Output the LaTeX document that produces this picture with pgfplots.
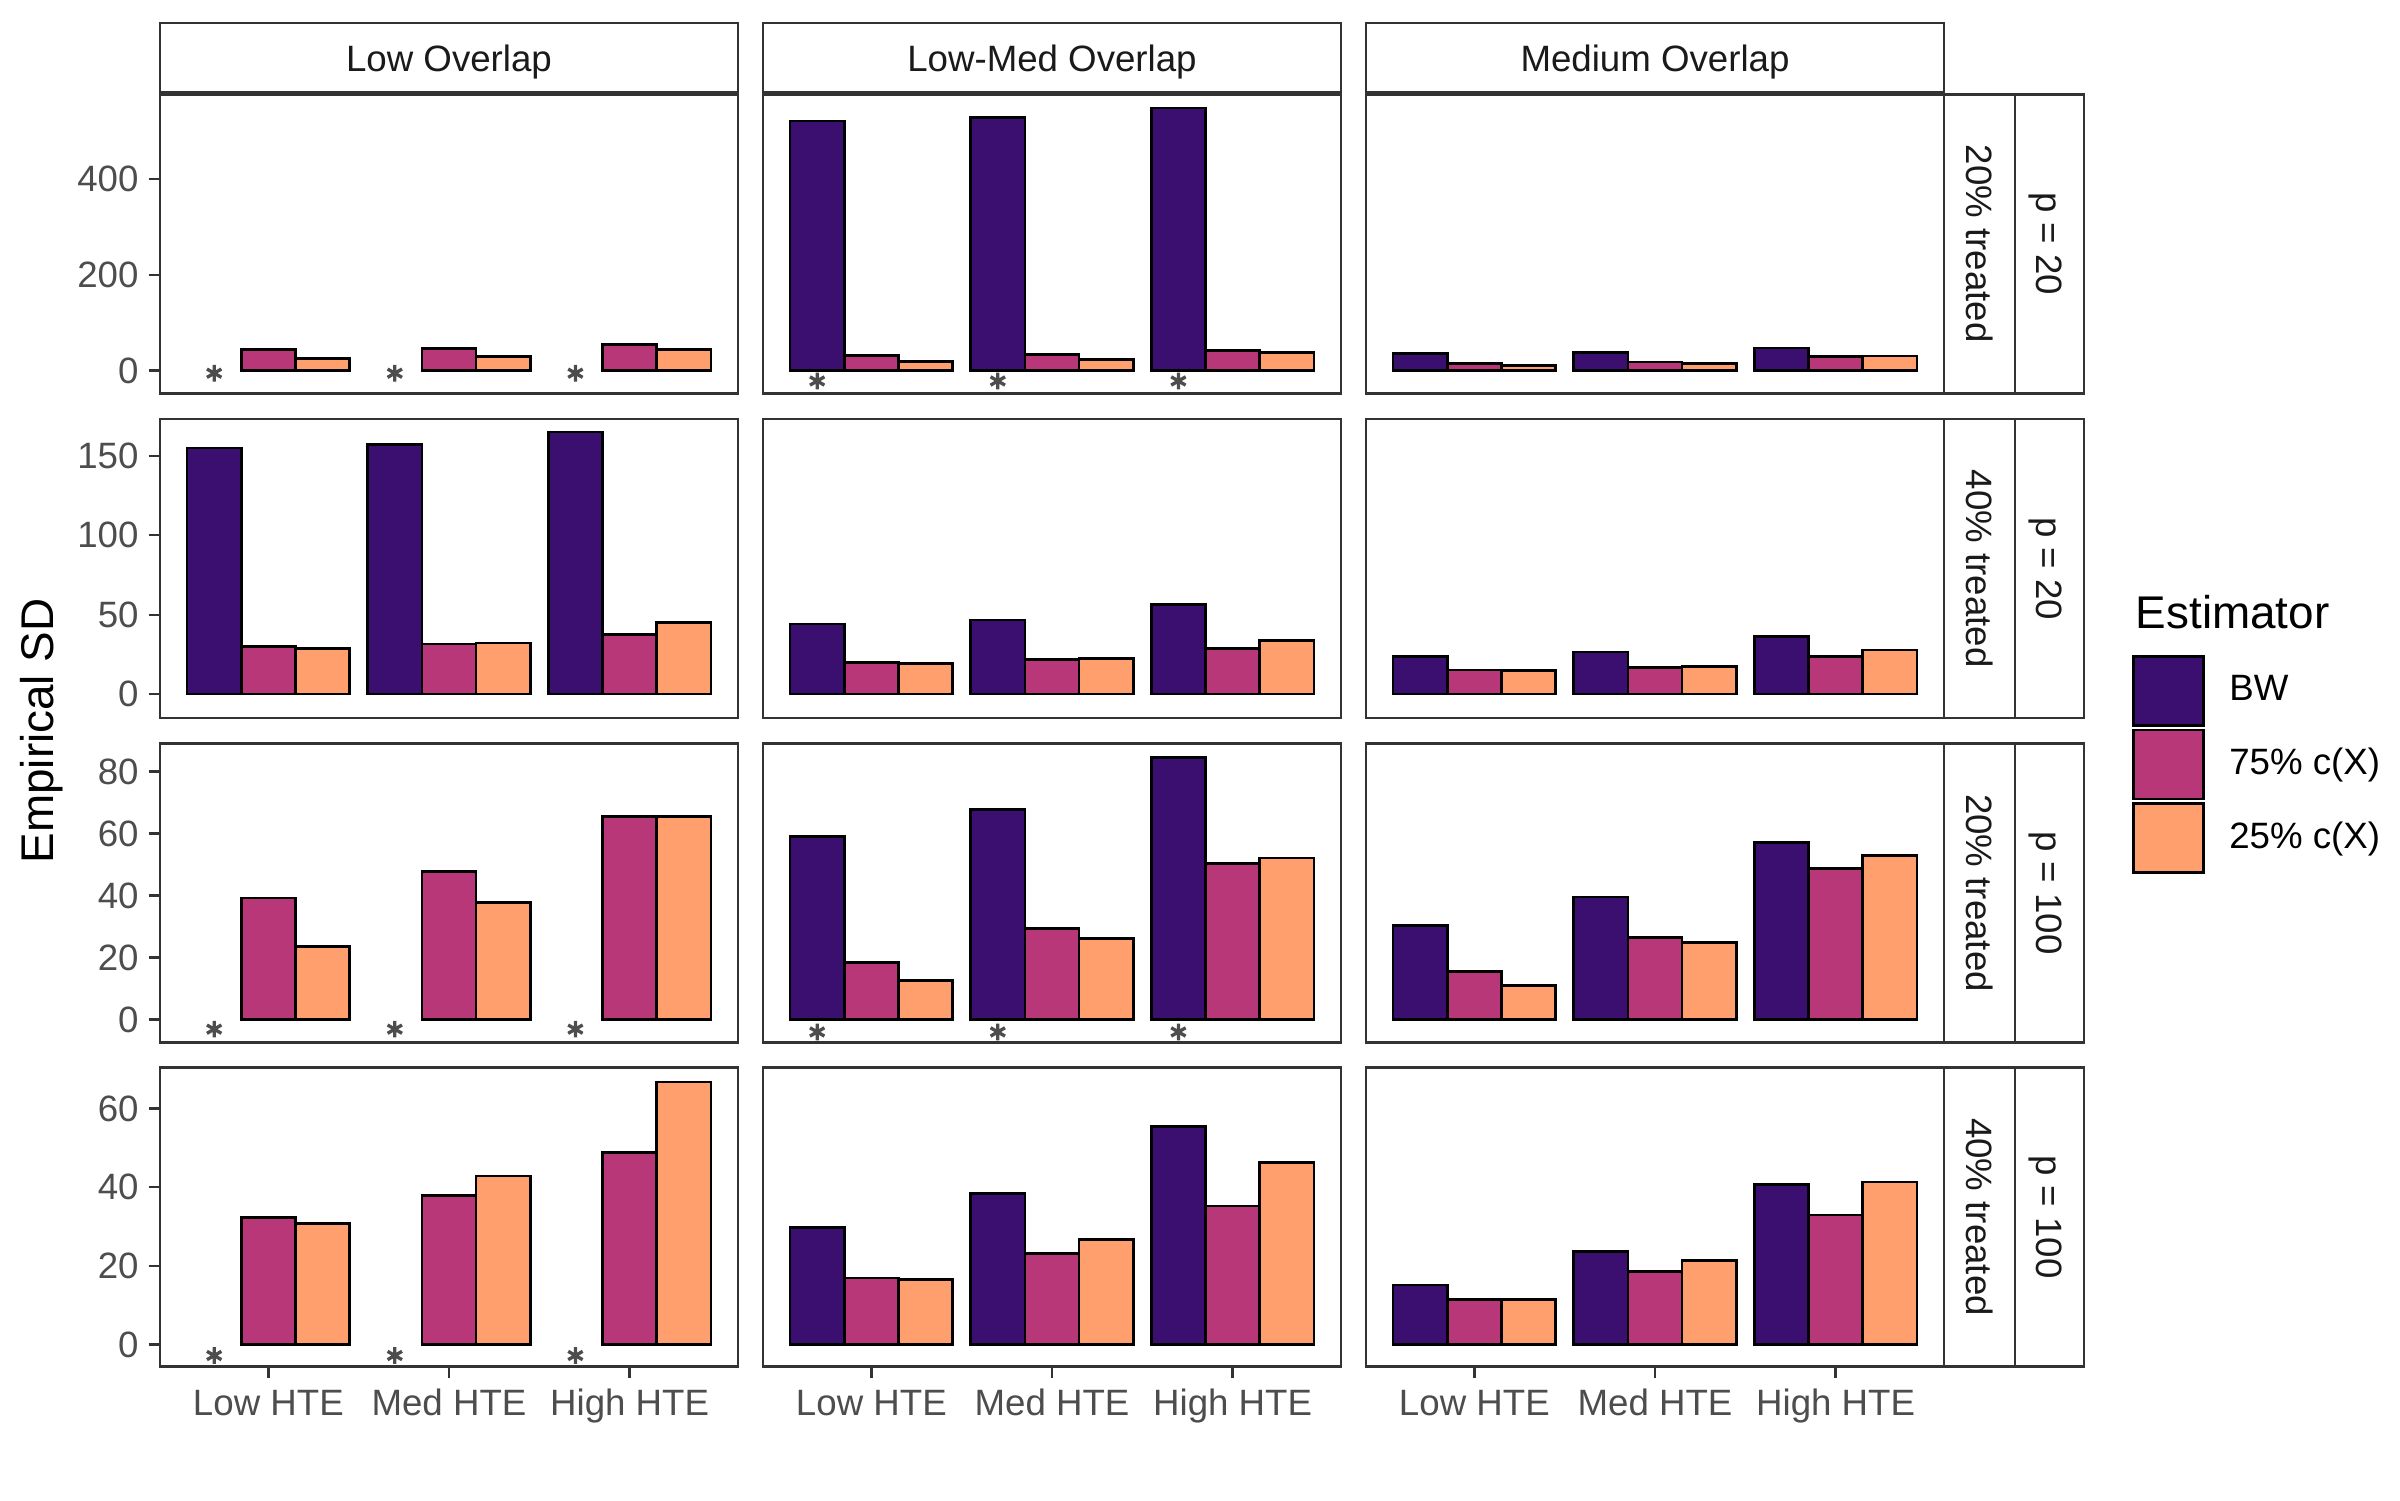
\documentclass[border=0pt]{standalone}
\usepackage{fontspec}
\setmainfont{Liberation Sans}
\usepackage{pgfplots}
\pgfplotsset{compat=1.18}

\definecolor{cBW}{HTML}{3B0F70}
\definecolor{c75}{HTML}{B73779}
\definecolor{c25}{HTML}{FE9F6D}
\definecolor{gray10}{HTML}{1A1A1A}
\definecolor{gray20}{HTML}{333333}
\definecolor{gray30}{HTML}{4D4D4D}

\newcommand{\lbl}{\fontsize{8.8}{10}\selectfont}
\newcommand{\ttl}{\fontsize{11}{13}\selectfont}

\pgfplotsset{
  panel/.style={
    scale only axis, width=138.72pt, height=71.76pt, anchor=north west,
    xmin=0.4, xmax=3.6, xtick=\empty, ytick=\empty,
    axis line style={draw=gray20, line width=0.55pt},
    tick style={draw=gray20, line width=0.55pt},
    tick align=outside, major tick length=2.75pt,
    axis on top,
    yticklabel style={font=\lbl, text=gray30, inner sep=0pt, anchor=east, xshift=-2.2pt},
    xticklabel style={font=\lbl, text=gray30, inner sep=0pt, anchor=base, yshift=-8.89pt},
  },
  bottomrow/.style={xtick={1,2,3}, xticklabels={Low HTE,Med HTE,High HTE}, xtick pos=bottom},
  sdbar/.style={ybar, bar width=0.3, draw=black, line width=0.65pt},
  bw/.style={sdbar, bar shift=-0.3, fill=cBW},
  pk/.style={sdbar, bar shift=0, fill=c75},
  og/.style={sdbar, bar shift=0.3, fill=c25},
  miss/.style={only marks, mark=asterisk, mark size=2.0pt, color=gray30, mark options={line width=0.8pt}},
  lgd/.style={legend image code/.code={\draw[##1,/tikz/.cd] (0pt,-8.3pt) rectangle (16.8pt,8.3pt);}},
}

\begin{document}
\begin{tikzpicture}
\useasboundingbox (0,0) rectangle (576pt,-360pt);

% ---- row 1: 20% treated, p = 20
\begin{axis}[panel, at={(38.4pt,-22.68pt)}, ymin=-48.2, ymax=577.4,
  ytick={0,200,400}, yticklabels={0,200,400}, ytick pos=left]
  \addplot[pk] coordinates {(1,44) (2,45.5) (3,55)};
  \addplot[og] coordinates {(1,24.5) (2,29) (3,44)};
  \addplot[miss] coordinates {(0.7,-5.7) (1.7,-5.7) (2.7,-5.7)};
\end{axis}
\begin{axis}[panel, at={(183.12pt,-22.68pt)}, ymin=-48.2, ymax=577.4]
  \addplot[bw] coordinates {(1,522) (2,530) (3,549)};
  \addplot[pk] coordinates {(1,31) (2,34) (3,42)};
  \addplot[og] coordinates {(1,19) (2,23) (3,37)};
  \addplot[miss] coordinates {(0.7,-22) (1.7,-22) (2.7,-22)};
\end{axis}
\begin{axis}[panel, at={(327.84pt,-22.68pt)}, ymin=-48.2, ymax=577.4]
  \addplot[bw] coordinates {(1,35) (2,38) (3,47)};
  \addplot[pk] coordinates {(1,15) (2,18) (3,29)};
  \addplot[og] coordinates {(1,11) (2,14) (3,30)};
\end{axis}

% ---- row 2: 40% treated, p = 20
\begin{axis}[panel, at={(38.4pt,-100.56pt)}, ymin=-15.1, ymax=173.2,
  ytick={0,50,100,150}, yticklabels={0,50,100,150}, ytick pos=left]
  \addplot[bw] coordinates {(1,155) (2,157) (3,165)};
  \addplot[pk] coordinates {(1,29.8) (2,31.5) (3,37.6)};
  \addplot[og] coordinates {(1,28.8) (2,32.2) (3,44.9)};
\end{axis}
\begin{axis}[panel, at={(183.12pt,-100.56pt)}, ymin=-15.1, ymax=173.2]
  \addplot[bw] coordinates {(1,44.2) (2,46.6) (3,56.6)};
  \addplot[pk] coordinates {(1,19.7) (2,21.6) (3,28.5)};
  \addplot[og] coordinates {(1,19.3) (2,22.5) (3,33.8)};
\end{axis}
\begin{axis}[panel, at={(327.84pt,-100.56pt)}, ymin=-15.1, ymax=173.2,
  legend style={at={(1.3253,0.2107)}, anchor=north west, draw=none, fill=none,
    inner sep=0pt, outer sep=0pt, row sep=0.4pt, column sep=5.9pt,
    font=\lbl, nodes={inner sep=0pt, text=black}},
  legend cell align=left]
  \addplot[bw, lgd] coordinates {(1,23.5) (2,26.4) (3,36.1)};
  \addlegendentry{BW}
  \addplot[pk, lgd] coordinates {(1,15.1) (2,16.8) (3,23.7)};
  \addlegendentry{75\% c(X)}
  \addplot[og, lgd] coordinates {(1,14.7) (2,17.4) (3,27.7)};
  \addlegendentry{25\% c(X)}
\end{axis}

% ---- row 3: 20% treated, p = 100
\begin{axis}[panel, at={(38.4pt,-178.44pt)}, ymin=-7.4, ymax=89.0,
  ytick={0,20,40,60,80}, yticklabels={0,20,40,60,80}, ytick pos=left]
  \addplot[pk] coordinates {(1,39.2) (2,47.8) (3,65.4)};
  \addplot[og] coordinates {(1,23.5) (2,37.8) (3,65.4)};
  \addplot[miss] coordinates {(0.7,-3.1) (1.7,-3.1) (2.7,-3.1)};
\end{axis}
\begin{axis}[panel, at={(183.12pt,-178.44pt)}, ymin=-7.4, ymax=89.0]
  \addplot[bw] coordinates {(1,59.1) (2,67.7) (3,84.6)};
  \addplot[pk] coordinates {(1,18.4) (2,29.3) (3,50.4)};
  \addplot[og] coordinates {(1,12.6) (2,26.1) (3,52.1)};
  \addplot[miss] coordinates {(0.7,-4.0) (1.7,-4.0) (2.7,-4.0)};
\end{axis}
\begin{axis}[panel, at={(327.84pt,-178.44pt)}, ymin=-7.4, ymax=89.0]
  \addplot[bw] coordinates {(1,30.4) (2,39.5) (3,57.0)};
  \addplot[pk] coordinates {(1,15.4) (2,26.5) (3,48.8)};
  \addplot[og] coordinates {(1,10.9) (2,24.9) (3,52.8)};
\end{axis}

% ---- row 4: 40% treated, p = 100
\begin{axis}[panel, bottomrow, at={(38.4pt,-256.2pt)}, ymin=-5.6, ymax=70.4,
  ytick={0,20,40,60}, yticklabels={0,20,40,60}, ytick pos=left]
  \addplot[pk] coordinates {(1,32.3) (2,37.8) (3,48.8)};
  \addplot[og] coordinates {(1,30.7) (2,42.8) (3,66.7)};
  \addplot[miss] coordinates {(0.7,-2.8) (1.7,-2.8) (2.7,-2.8)};
\end{axis}
\begin{axis}[panel, bottomrow, at={(183.12pt,-256.2pt)}, ymin=-5.6, ymax=70.4]
  \addplot[bw] coordinates {(1,29.8) (2,38.3) (3,55.4)};
  \addplot[pk] coordinates {(1,16.9) (2,23.1) (3,35.2)};
  \addplot[og] coordinates {(1,16.5) (2,26.7) (3,46.2)};
\end{axis}
\begin{axis}[panel, bottomrow, at={(327.84pt,-256.2pt)}, ymin=-5.6, ymax=70.4]
  \addplot[bw] coordinates {(1,15.1) (2,23.6) (3,40.6)};
  \addplot[pk] coordinates {(1,11.5) (2,18.6) (3,32.9)};
  \addplot[og] coordinates {(1,11.5) (2,21.4) (3,41.3)};
\end{axis}

% ---- facet strips
\begin{scope}[draw=gray20, line width=0.55pt]
  \draw[fill=white] (38.4pt,-5.59pt) rectangle (177.12pt,-22.01pt);
  \draw[fill=white] (183.12pt,-5.59pt) rectangle (321.84pt,-22.01pt);
  \draw[fill=white] (327.84pt,-5.59pt) rectangle (466.56pt,-22.01pt);
  \foreach \t in {22.68,100.56,178.44,256.2}{
    \draw[fill=white] (466.56pt,-\t pt) rectangle (483.6pt,-\t pt-71.76pt);
    \draw[fill=white] (483.6pt,-\t pt) rectangle (500.16pt,-\t pt-71.76pt);
  }
\end{scope}
\begin{scope}[every node/.style={font=\lbl, text=gray10, inner sep=0pt}]
  \node[anchor=base] at (107.76pt,-17.16pt) {Low Overlap};
  \node[anchor=base] at (252.48pt,-17.16pt) {Low-Med Overlap};
  \node[anchor=base] at (397.2pt,-17.16pt) {Medium Overlap};
  \node[anchor=base, rotate=-90] at (472.0pt,-58.5pt) {20\% treated};
  \node[anchor=base, rotate=-90] at (472.0pt,-136.5pt) {40\% treated};
  \node[anchor=base, rotate=-90] at (472.0pt,-214.32pt) {20\% treated};
  \node[anchor=base, rotate=-90] at (472.0pt,-292.08pt) {40\% treated};
  \node[anchor=base, rotate=-90] at (488.8pt,-58.5pt) {p = 20};
  \node[anchor=base, rotate=-90] at (488.8pt,-136.5pt) {p = 20};
  \node[anchor=base, rotate=-90] at (488.8pt,-214.32pt) {p = 100};
  \node[anchor=base, rotate=-90] at (488.8pt,-292.08pt) {p = 100};
\end{scope}

% ---- titles
\node[font=\ttl, inner sep=0pt, anchor=base, rotate=90] at (12.8pt,-175.4pt) {Empirical SD};
\node[font=\ttl, inner sep=0pt, anchor=base west] at (512.4pt,-150.8pt) {Estimator};
\end{tikzpicture}
\end{document}
